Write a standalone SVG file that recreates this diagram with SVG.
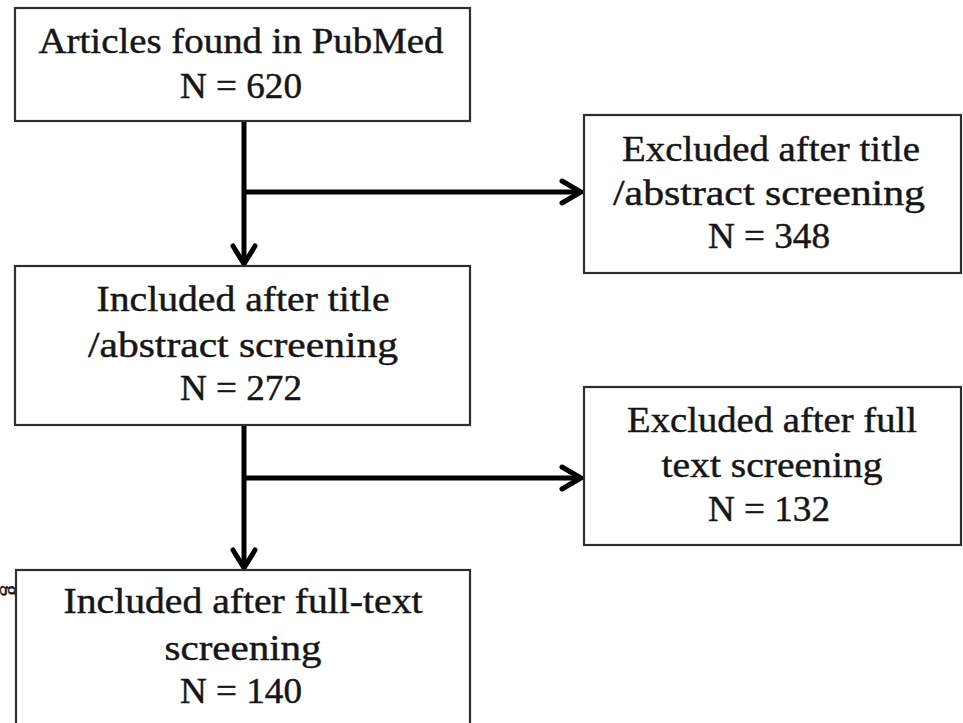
<svg xmlns="http://www.w3.org/2000/svg" width="963" height="723" viewBox="0 0 963 723">
<style>
.box{fill:#ffffff;stroke:#2e2e2e;stroke-width:2.2}
.t{font-family:"Liberation Serif","Times New Roman",serif;font-size:36px;fill:#161616;stroke:#161616;stroke-width:0.45;text-anchor:middle}
.s{font-family:"Liberation Serif","Times New Roman",serif;font-size:22px;fill:#161616;stroke:#161616;stroke-width:0.4}
.ln{stroke:#000;stroke-width:5;fill:none}
.ah{stroke:#000;stroke-width:5;fill:none;stroke-linecap:round;stroke-linejoin:miter}
</style>
<rect width="963" height="723" fill="#ffffff"/>
<g id="stray">
<text class="s" transform="translate(5,585) rotate(90)">g</text>
</g>
<g id="connectors">
<line class="ln" x1="244" y1="121" x2="244" y2="262"/>
<polyline class="ah" points="233,246 244,264 255,246"/>
<line class="ln" x1="244" y1="192" x2="580" y2="192"/>
<polyline class="ah" points="562,181 581,192 562,203"/>
<line class="ln" x1="244" y1="425" x2="244" y2="566"/>
<polyline class="ah" points="233,550 244,568 255,550"/>
<line class="ln" x1="244" y1="478" x2="580" y2="478"/>
<polyline class="ah" points="562,467 581,478 562,489"/>
</g>
<g id="n1">
<rect class="box" x="15" y="8" width="455" height="113"/>
<text class="t" x="241" y="53" textLength="405" lengthAdjust="spacingAndGlyphs">Articles found in PubMed</text>
<text class="t" x="241" y="98" textLength="122" lengthAdjust="spacingAndGlyphs">N = 620</text>
</g>
<g id="n2">
<rect class="box" x="15" y="266" width="455" height="159"/>
<text class="t" x="243" y="311" textLength="293" lengthAdjust="spacingAndGlyphs">Included after title</text>
<text class="t" x="243" y="357" textLength="310" lengthAdjust="spacingAndGlyphs">/abstract screening</text>
<text class="t" x="241" y="400" textLength="122" lengthAdjust="spacingAndGlyphs">N = 272</text>
</g>
<g id="n3">
<rect class="box" x="16" y="570" width="454" height="160"/>
<text class="t" x="243" y="613" textLength="359" lengthAdjust="spacingAndGlyphs">Included after full-text</text>
<text class="t" x="243" y="660" textLength="157" lengthAdjust="spacingAndGlyphs">screening</text>
<text class="t" x="241" y="703" textLength="122" lengthAdjust="spacingAndGlyphs">N = 140</text>
</g>
<g id="n4">
<rect class="box" x="584" y="115" width="377" height="158"/>
<text class="t" x="771" y="161" textLength="298" lengthAdjust="spacingAndGlyphs">Excluded after title</text>
<text class="t" x="769" y="205" textLength="312" lengthAdjust="spacingAndGlyphs">/abstract screening</text>
<text class="t" x="769" y="248" textLength="122" lengthAdjust="spacingAndGlyphs">N = 348</text>
</g>
<g id="n5">
<rect class="box" x="584" y="387" width="377" height="158"/>
<text class="t" x="772" y="432" textLength="290" lengthAdjust="spacingAndGlyphs">Excluded after full</text>
<text class="t" x="772" y="477" textLength="221" lengthAdjust="spacingAndGlyphs">text screening</text>
<text class="t" x="769" y="521" textLength="122" lengthAdjust="spacingAndGlyphs">N = 132</text>
</g>
</svg>
